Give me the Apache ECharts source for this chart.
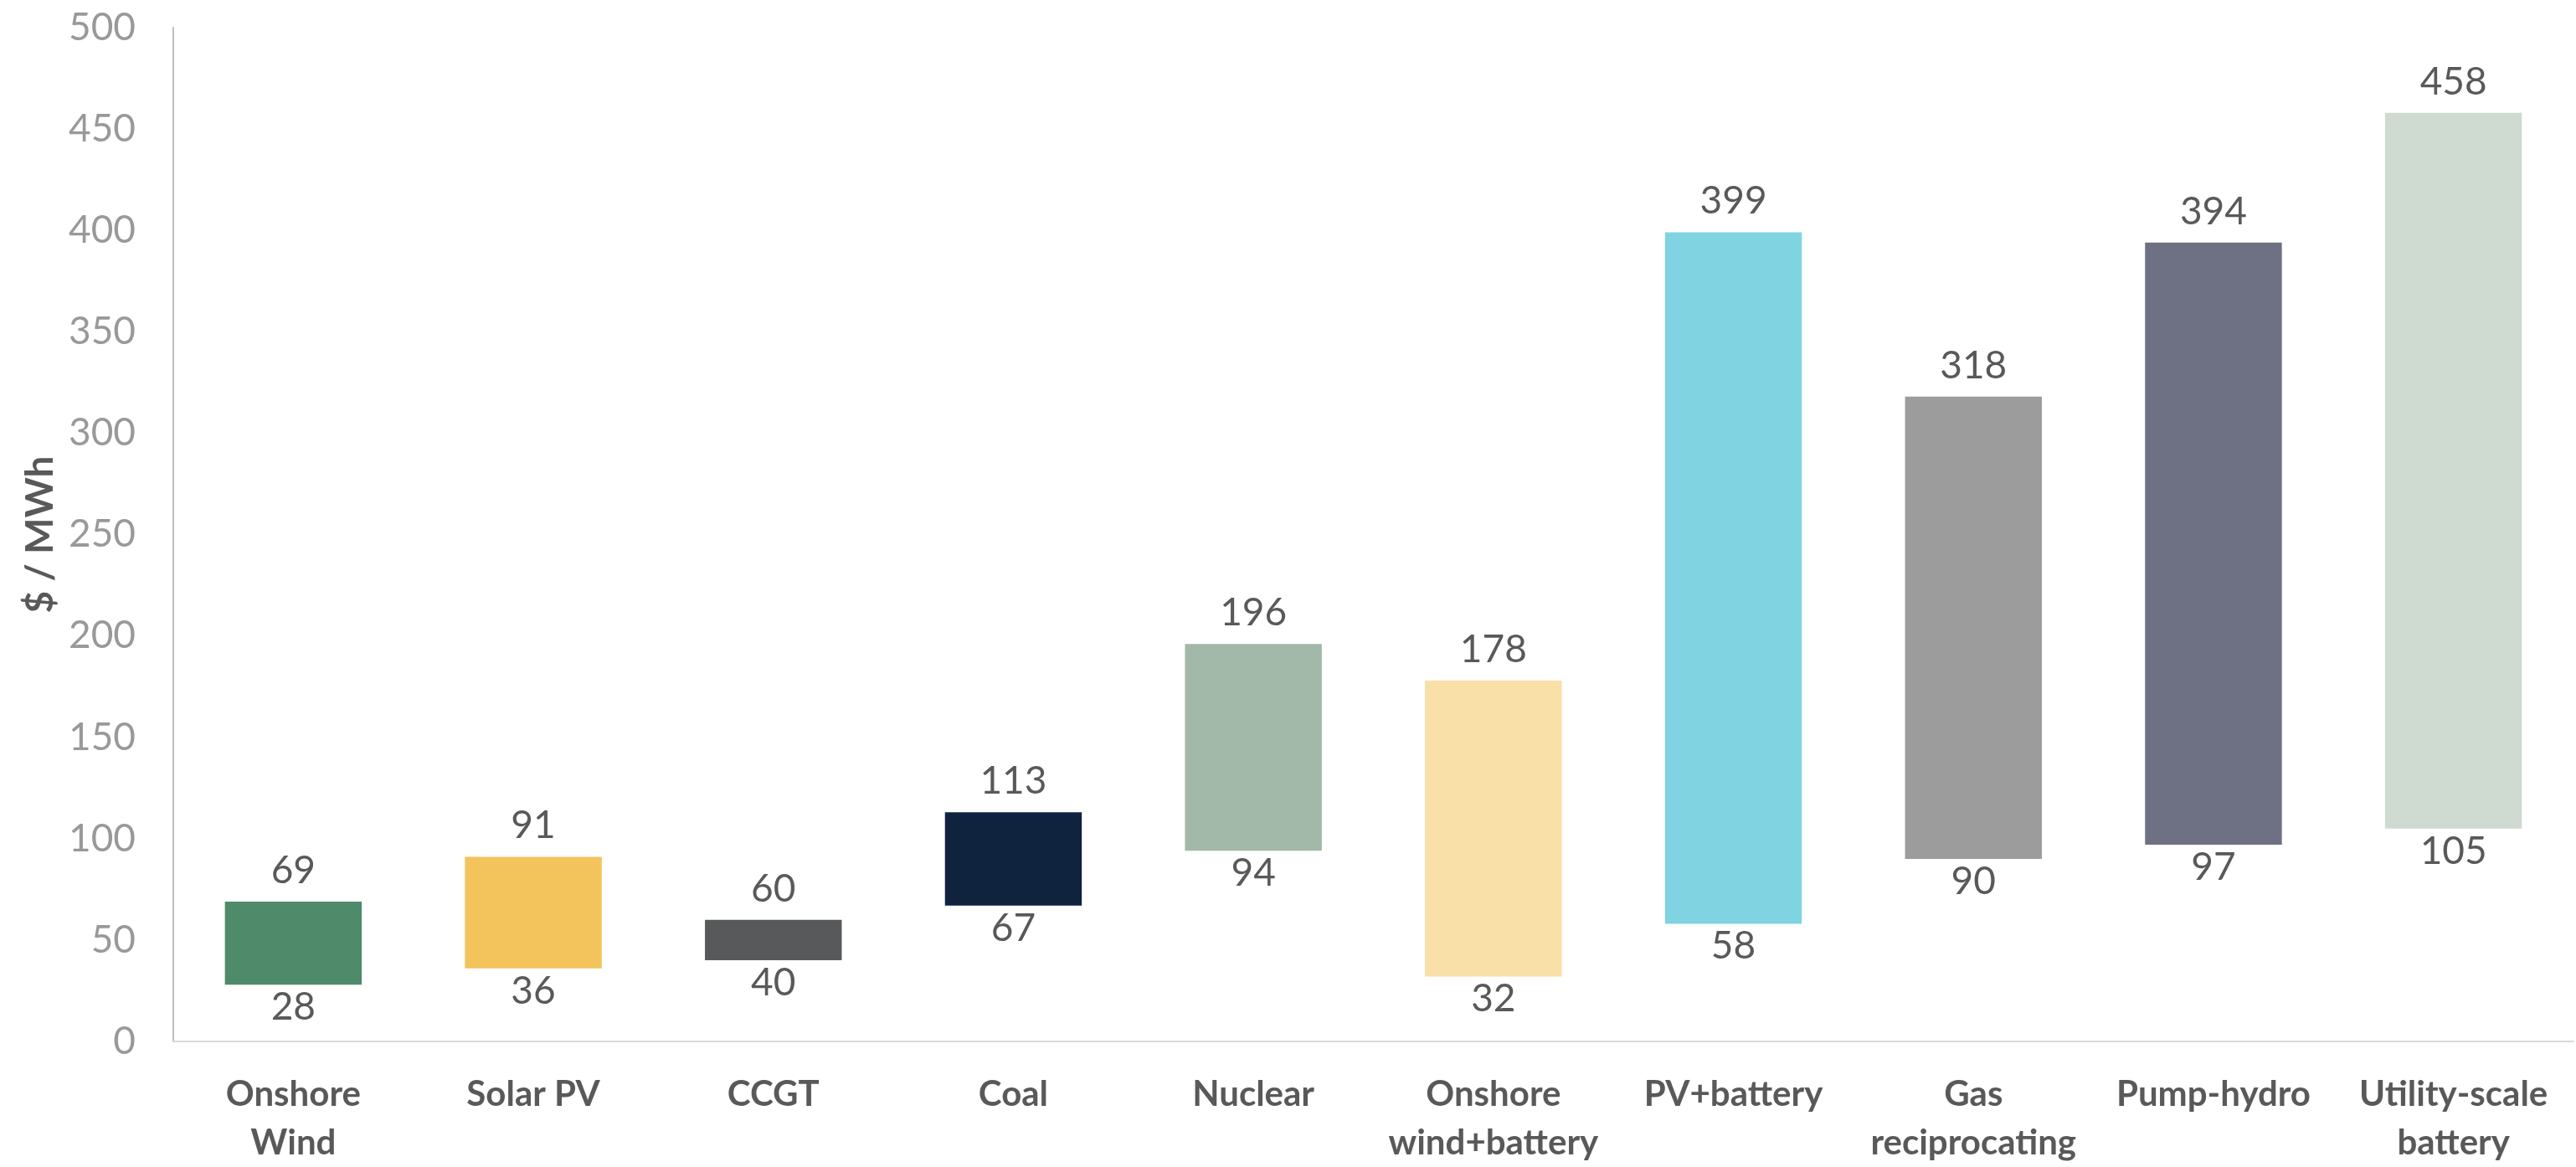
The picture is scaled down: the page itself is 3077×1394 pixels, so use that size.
<!DOCTYPE html>
<html>
<head>
<meta charset="utf-8">
<title>Levelised cost ranges by technology</title>
<script src="https://cdn.jsdelivr.net/npm/echarts@6/dist/echarts.min.js"></script>
<style>
  html, body { margin: 0; padding: 0; background: #ffffff; }
  #chart { width: 3077px; height: 1394px; }
</style>
</head>
<body>
<div id="chart"></div>
<script>
// Technologies shown along the x-axis
const categories = [
  'Onshore\nWind', 'Solar PV', 'CCGT', 'Coal', 'Nuclear',
  'Onshore\nwind+battery', 'PV+battery', 'Gas\nreciprocating',
  'Pump-hydro', 'Utility-scale\nbattery'
];

// Low and high end of each cost range ($ / MWh)
const lowValues  = [28, 36, 40, 67, 94, 32, 58, 90, 97, 105];
const highValues = [69, 91, 60, 113, 196, 178, 399, 318, 394, 458];

// Bar fill per technology
const barColors = [
  '#4f8a6b', '#f3c45c', '#58595b', '#0f233f', '#a2b9a9',
  '#f9dfa8', '#80d4e1', '#9d9c9d', '#6e7083', '#cfdad1'
];

// y-axis ticks
const yTicks = { min: 0, max: 500, interval: 50 };

const labelFont = 'Lato, "Noto Sans", sans-serif';

const spanValues = highValues.map((h, i) => h - lowValues[i]);

const chart = echarts.init(document.getElementById('chart'));
chart.setOption({
  animation: false,
  backgroundColor: '#ffffff',
  grid: { left: 207, right: 3, top: 33, bottom: 145, containLabel: false },
  xAxis: {
    type: 'category',
    data: categories,
    axisLine: { show: true, lineStyle: { color: '#d9d9d9', width: 2 } },
    axisTick: { show: false },
    axisLabel: {
      interval: 0,
      margin: 34,
      color: '#595959',
      fontFamily: labelFont,
      fontWeight: 'bold',
      fontSize: 42,
      lineHeight: 58
    }
  },
  yAxis: {
    type: 'value',
    min: yTicks.min,
    max: yTicks.max,
    interval: yTicks.interval,
    name: '$ / MWh',
    nameLocation: 'middle',
    nameGap: 130,
    nameTextStyle: {
      color: '#595959',
      fontFamily: labelFont,
      fontWeight: 'bold',
      fontSize: 46
    },
    axisLine: { show: true, lineStyle: { color: '#bfbfbf', width: 2 } },
    axisTick: { show: false },
    splitLine: { show: false },
    axisLabel: {
      margin: 45,
      color: '#999999',
      fontFamily: labelFont,
      fontSize: 46
    }
  },
  series: [
    {
      // invisible base up to the low end; carries the low-end label
      type: 'bar',
      stack: 'range',
      barWidth: '57%',
      data: lowValues,
      itemStyle: { color: 'rgba(0,0,0,0)' },
      label: {
        show: true,
        position: 'insideTop',
        distance: 4,
        color: '#595959',
        fontFamily: labelFont,
        fontSize: 46,
        formatter: p => String(lowValues[p.dataIndex])
      },
      silent: true
    },
    {
      type: 'bar',
      stack: 'range',
      barWidth: '57%',
      data: spanValues.map((v, i) => ({ value: v, itemStyle: { color: barColors[i] } })),
      label: {
        show: true,
        position: 'top',
        distance: 14,
        color: '#595959',
        fontFamily: labelFont,
        fontSize: 46,
        formatter: p => String(highValues[p.dataIndex])
      }
    }
  ]
});
</script>
</body>
</html>
